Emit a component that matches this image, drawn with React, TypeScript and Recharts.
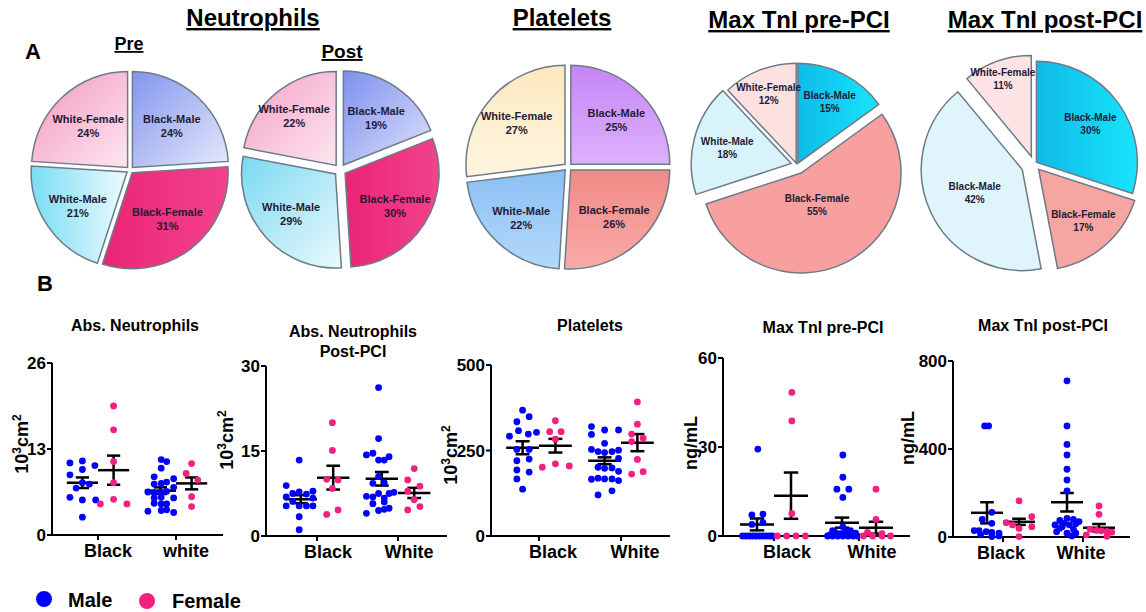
import React from "react";
import {
  PieChart,
  Pie,
  Cell,
  ScatterChart,
  Scatter,
  XAxis,
  YAxis,
  ReferenceLine,
} from "recharts";

const FONT = "'Liberation Sans', Arial, sans-serif";
const BLUE = "#0000ff";
const PINK = "#f2217f";

// ---------- Panel A: pie shares (%) ----------
const sliceNames = ["Black-Male", "Black-Female", "White-Male", "White-Female"];
const tnPostNames = ["Black-Male", "Black-Female", "Black-Male", "White-Female"];
const neutPrePct = [24, 31, 21, 24];
const neutPostPct = [19, 30, 29, 22];
const plateletPct = [25, 26, 22, 27];
const tnPrePct = [15, 55, 18, 12];
const tnPostPct = [30, 17, 42, 11];

// ---------- Panel B: individual values [jitter, value] ----------
type Pt = [number, number];

const neutPreBM: Pt[] = [
  [-0.36, 10.9], [-0.2, 11.2], [-0.04, 10.5], [-0.36, 9.1], [-0.2, 9.9], [-0.2, 7.9],
  [-0.28, 7.1], [-0.11, 7.7], [-0.36, 5.7], [-0.2, 5.3], [-0.03, 5.3], [-0.2, 2.7],
];
const neutPreBF: Pt[] = [
  [0.2, 19.5], [0.2, 15.9], [0.2, 11.1], [0.2, 7.9], [0.2, 5.4], [0.03, 4.7], [0.37, 4.7],
];
const neutPreWM: Pt[] = [
  [-0.19, 11.4], [-0.12, 11.1], [-0.19, 10.1], [-0.28, 8.8], [-0.03, 8.5], [-0.28, 7.7],
  [-0.19, 7.8], [-0.12, 8.0], [-0.36, 6.5], [-0.28, 6.4], [-0.19, 6.4], [-0.12, 6.6],
  [-0.03, 7.2], [-0.28, 5.6], [-0.19, 5.7], [-0.03, 5.6], [-0.28, 4.8], [-0.19, 4.7],
  [-0.12, 4.7], [-0.36, 3.6], [-0.19, 3.7], [-0.12, 3.8], [-0.03, 3.4],
];
const neutPreWF: Pt[] = [[0.2, 10.8], [0.13, 9.3], [0.28, 8.3], [0.2, 5.8], [0.2, 4.3]];
const neutPreStats = [[7.9, 0.8], [9.8, 2.2], [6.7, 0.5], [7.8, 0.9]];

const neutPostBM: Pt[] = [
  [-0.22, 13.4], [-0.38, 8.9], [-0.3, 7.5], [-0.22, 7.8], [-0.13, 7.4], [-0.05, 7.9],
  [-0.38, 6.9], [-0.05, 6.7], [-0.3, 6.1], [-0.38, 5.3], [-0.22, 5.3], [-0.13, 5.3],
  [-0.05, 5.3], [-0.22, 3.4], [-0.22, 1.1],
];
const neutPostBF: Pt[] = [
  [0.19, 20.0], [0.19, 15.1], [0.12, 10.0], [0.26, 9.9], [0.19, 8.4], [0.26, 4.6], [0.12, 3.8],
];
const neutPostWM: Pt[] = [
  [-0.24, 26.2], [-0.24, 17.2], [-0.31, 14.6], [-0.39, 14.3], [-0.17, 13.4], [-0.24, 13.4],
  [-0.11, 14.0], [-0.24, 10.5], [-0.31, 9.3], [-0.17, 9.4], [-0.39, 7.0], [-0.24, 7.5],
  [-0.11, 7.5], [-0.05, 7.7], [-0.31, 6.9], [-0.17, 6.7], [-0.31, 5.7], [-0.17, 6.0],
  [-0.11, 4.9], [-0.17, 4.7], [-0.39, 4.0], [-0.24, 4.5],
];
const neutPostWF: Pt[] = [
  [0.2, 11.9], [0.12, 9.9], [0.27, 8.8], [0.12, 7.9], [0.2, 6.4], [0.27, 5.2], [0.12, 4.6],
];
const neutPostStats = [[6.5, 0.7], [10.3, 2.1], [10.1, 1.2], [7.6, 0.9]];

const platBM: Pt[] = [
  [-0.2, 368], [-0.12, 349], [-0.27, 334], [-0.36, 292], [-0.25, 308], [-0.13, 298],
  [-0.03, 303], [-0.27, 253], [-0.12, 253], [-0.27, 220], [-0.12, 225], [-0.27, 193],
  [-0.12, 187], [-0.27, 167], [-0.2, 137],
];
const platBF: Pt[] = [
  [0.2, 337], [0.13, 305], [0.27, 305], [0.2, 283], [0.04, 201], [0.2, 211], [0.37, 205],
];
const platWM: Pt[] = [
  [-0.36, 320], [-0.2, 310], [-0.03, 310], [-0.36, 297], [-0.2, 271], [-0.36, 253],
  [-0.28, 247], [-0.2, 244], [-0.11, 247], [-0.03, 251], [-0.03, 227], [-0.28, 201],
  [-0.2, 198], [-0.11, 199], [-0.03, 189], [-0.36, 166], [-0.28, 169], [-0.2, 167],
  [-0.11, 167], [-0.03, 162], [-0.11, 132], [-0.28, 120],
];
const platWF: Pt[] = [
  [0.2, 392], [0.2, 327], [0.13, 298], [0.27, 286], [0.13, 276], [0.2, 224], [0.13, 181], [0.27, 188],
];
const platStats = [[258, 19], [264, 20], [220, 10], [273, 25]];

const tnPreBM: Pt[] = [
  [-0.19, 29.3], [-0.13, 7.4], [-0.26, 7.1], [-0.13, 4.5], [-0.26, 3.9], [-0.37, 0],
  [-0.33, 0], [-0.29, 0], [-0.25, 0], [-0.21, 0], [-0.17, 0], [-0.13, 0], [-0.09, 0],
  [-0.05, 0], [-0.02, 0],
];
const tnPreBF: Pt[] = [
  [0.21, 48.4], [0.21, 38.8], [0.21, 7.6], [0.04, 0], [0.15, 0], [0.26, 0], [0.37, 0],
];
const tnPreWM: Pt[] = [
  [-0.19, 27.3], [-0.19, 19.8], [-0.26, 15.8], [-0.12, 15.8], [-0.19, 13.0], [-0.19, 3.1],
  [-0.37, 0], [-0.34, 0.4], [-0.31, 0], [-0.28, 1.2], [-0.25, 0], [-0.22, 0.8], [-0.19, 0],
  [-0.16, 1.5], [-0.13, 0], [-0.1, 0.6], [-0.07, 0], [-0.04, 1.0], [-0.02, 0], [-0.31, 1.8],
  [-0.1, 1.8],
];
const tnPreWF: Pt[] = [
  [0.2, 15.8], [0.2, 5.6], [0.1, 1.2], [0.27, 0.8], [0.05, 0], [0.16, 0], [0.27, 0], [0.37, 0],
];
const tnPreStats = [[3.9, 2.0], [13.6, 7.8], [4.5, 1.7], [2.8, 2.0]];

const tnPostBM: Pt[] = [
  [-0.23, 505], [-0.18, 505], [-0.14, 112], [-0.26, 80], [-0.14, 62], [-0.36, 29],
  [-0.3, 29], [-0.21, 24], [-0.14, 21], [-0.05, 17], [-0.14, 2], [-0.28, 10], [-0.05, 5],
];
const tnPostBF: Pt[] = [
  [0.2, 164], [0.36, 92], [0.04, 65], [0.12, 55], [0.36, 47], [0.2, 39], [0.2, 2],
];
const tnPostWM: Pt[] = [
  [-0.2, 710], [-0.2, 505], [-0.2, 421], [-0.2, 373], [-0.2, 308], [-0.2, 259], [-0.2, 209],
  [-0.2, 85], [-0.12, 80], [-0.05, 70], [-0.29, 75], [-0.35, 55], [-0.26, 47], [-0.17, 55],
  [-0.09, 60], [-0.33, 24], [-0.2, 17], [-0.09, 17], [-0.14, 5], [-0.29, 40], [-0.12, 35],
  [-0.24, 62],
];
const tnPostWF: Pt[] = [
  [0.2, 141], [0.2, 103], [0.09, 35], [0.17, 30], [0.23, 28], [0.3, 25], [0.36, 22], [0.04, 10], [0.3, 3],
];
const tnPostStats = [[110, 48], [69, 14], [158, 42], [42, 17]];

// ---------- pies ----------
type PieCfg = {
  id: string;
  names: string[];
  pct: number[];
  cx: number;
  cy: number;
  r: number;
  explode: number[];
  labelR: number[];
  fills: string[];
  fs: number;
};

const pies: PieCfg[] = [
  {
    id: "pre", names: sliceNames, pct: neutPrePct, cx: 130, cy: 170, r: 96,
    explode: [3.5, 3.5, 3.5, 3.5], labelR: [0.6, 0.6, 0.62, 0.6],
    fills: ["url(#preBM)", "url(#preBF)", "url(#preWM)", "url(#preWF)"], fs: 11,
  },
  {
    id: "post", names: sliceNames, pct: neutPostPct, cx: 340, cy: 170, r: 94,
    explode: [6, 6, 6, 6], labelR: [0.62, 0.63, 0.63, 0.7],
    fills: ["url(#postBM)", "url(#postBF)", "url(#postWM)", "url(#postWF)"], fs: 11,
  },
  {
    id: "plt", names: sliceNames, pct: plateletPct, cx: 568, cy: 167, r: 99,
    explode: [4, 4, 4, 4], labelR: [0.65, 0.64, 0.65, 0.65],
    fills: ["url(#pltBM)", "url(#pltBF)", "url(#pltWM)", "url(#pltWF)"], fs: 11,
  },
  {
    id: "tpre", names: sliceNames, pct: tnPrePct, cx: 797, cy: 165, r: 100,
    explode: [2, 9, 6, 2], labelR: [0.7, 0.35, 0.66, 0.75],
    fills: ["url(#tnBM)", "#f7a09f", "#d8f3fa", "#fde0e0"], fs: 10,
  },
  {
    id: "tpost", names: tnPostNames, pct: tnPostPct, cx: 1034, cy: 164, r: 101,
    explode: [3, 7, 13, 8], labelR: [0.66, 0.67, 0.52, 0.83],
    fills: ["url(#tnBM)", "#f6a5a3", "#e0f5fb", "#fde3e3"], fs: 10,
  },
];

const midAngles = (vals: number[]) => {
  const total = vals.reduce((a, b) => a + b, 0);
  let acc = 0;
  return vals.map((v) => {
    const m = 90 - (360 * (acc + v / 2)) / total;
    acc += v;
    return m;
  });
};

const grad = (id: string, a: string, b: string, x2 = 1, y2 = 1) => (
  <linearGradient id={id} x1="0" y1="0" x2={x2} y2={y2}>
    <stop offset="0%" stopColor={a} />
    <stop offset="100%" stopColor={b} />
  </linearGradient>
);

function PieRow() {
  return (
    <div style={{ position: "absolute", left: 0, top: 0 }}>
      <PieChart width={1146} height={290} margin={{ top: 0, right: 0, bottom: 0, left: 0 }}>
        <defs>
          {grad("preBM", "#8395ee", "#e6e9fb")}
          {grad("preBF", "#ea2576", "#f3428b", 1, 0)}
          {grad("preWM", "#79ddf3", "#edfafe", 1, 0)}
          {grad("preWF", "#f497bf", "#fde6ef")}
          {grad("postBM", "#7d90ee", "#dfe3fa")}
          {grad("postBF", "#ea2576", "#f3428b", 1, 0)}
          {grad("postWM", "#7bd9f1", "#eaf9fd")}
          {grad("postWF", "#f4a0c5", "#fde6ef")}
          {grad("pltBM", "#c585f6", "#dcb2fb", 0, 1)}
          {grad("pltBF", "#f28a86", "#f8aba7", 0, 1)}
          {grad("pltWM", "#8bbff4", "#b3d9fb", 0, 1)}
          {grad("pltWF", "#fde8bf", "#fef5e0", 0, 1)}
          {grad("tnBM", "#0fbbe8", "#18e4fc", 1, 0)}
        </defs>
        {pies.map((cfg) => {
          const mids = midAngles(cfg.pct);
          const data = cfg.pct.map((v, i) => ({ name: cfg.names[i], value: v }));
          return cfg.pct.map((_, k) => {
            const rad = (Math.PI / 180) * mids[k];
            const cx = cfg.cx + cfg.explode[k] * Math.cos(rad);
            const cy = cfg.cy - cfg.explode[k] * Math.sin(rad);
            const lr = cfg.r * cfg.labelR[k];
            const lx = cx + lr * Math.cos(rad);
            const ly = cy - lr * Math.sin(rad);
            return (
              <Pie
                key={cfg.id + k}
                data={data}
                dataKey="value"
                cx={cx}
                cy={cy}
                outerRadius={cfg.r}
                startAngle={90}
                endAngle={-270}
                labelLine={false}
                isAnimationActive={false}
                label={(p: any) =>
                  p.index === k ? (
                    <text
                      x={lx}
                      y={ly}
                      textAnchor="middle"
                      fontFamily={FONT}
                      fontWeight={700}
                      fontSize={cfg.fs}
                      fill="#241a33"
                    >
                      <tspan x={lx} dy={-2}>{cfg.names[k]}</tspan>
                      <tspan x={lx} dy={cfg.fs + 3}>{cfg.pct[k]}%</tspan>
                    </text>
                  ) : null
                }
              >
                {data.map((_, i) => (
                  <Cell
                    key={i}
                    fill={i === k ? cfg.fills[i] : "none"}
                    stroke={i === k ? "#6d7b88" : "none"}
                    strokeWidth={1.5}
                  />
                ))}
              </Pie>
            );
          });
        })}
      </PieChart>
    </div>
  );
}

// ---------- scatter panels ----------
type PanelCfg = {
  cats: string[];
  yMax: number;
  groups: Pt[][];
  stats: number[][];
  left: number;
  top: number;
  right: number;
  bottom: number;
  tick1: number;
  tick2: number;
  labelDx: number;
};

const panels: PanelCfg[] = [
  {
    cats: ["Black", "white"], yMax: 26, groups: [neutPreBM, neutPreBF, neutPreWM, neutPreWF],
    stats: neutPreStats, left: 52, top: 363, right: 223, bottom: 535, tick1: 98, tick2: 176, labelDx: 10,
  },
  {
    cats: ["Black", "White"], yMax: 30, groups: [neutPostBM, neutPostBF, neutPostWM, neutPostWF],
    stats: neutPostStats, left: 266, top: 366, right: 447, bottom: 536, tick1: 317, tick2: 398, labelDx: 11,
  },
  {
    cats: ["Black", "White"], yMax: 500, groups: [platBM, platBF, platWM, platWF],
    stats: platStats, left: 491, top: 365, right: 670, bottom: 536, tick1: 539, tick2: 621, labelDx: 14,
  },
  {
    cats: ["Black", "White"], yMax: 60, groups: [tnPreBM, tnPreBF, tnPreWM, tnPreWF],
    stats: tnPreStats, left: 723, top: 358, right: 910, bottom: 536, tick1: 774, tick2: 859, labelDx: 13,
  },
  {
    cats: ["Black", "White"], yMax: 800, groups: [tnPostBM, tnPostBF, tnPostWM, tnPostWF],
    stats: tnPostStats, left: 953, top: 361, right: 1130, bottom: 537, tick1: 1003, tick2: 1083, labelDx: -2,
  },
];

const dot = (color: string) => (p: any) => <circle cx={p.cx} cy={p.cy} r={3.4} fill={color} />;

function Panel({ cfg }: { cfg: PanelCfg }) {
  const unit = cfg.tick2 - cfg.tick1;
  const xMin = 1 - (cfg.tick1 - cfg.left) / unit;
  const xMax = 2 + (cfg.right - cfg.tick2) / unit;
  const W = cfg.right - cfg.left + 60;
  const H = cfg.bottom - cfg.top + 50;
  const cats = [1, 1, 2, 2];
  const centers = [0.8, 1.2, 1.8, 2.2];
  const colors = [BLUE, PINK, BLUE, PINK];
  const seg = (x1: number, x2: number, y1: number, y2: number, key: string) => (
    <ReferenceLine
      key={key}
      segment={[{ x: x1, y: y1 }, { x: x2, y: y2 }]}
      stroke="#000"
      strokeWidth={2.5}
    />
  );
  return (
    <div style={{ position: "absolute", left: cfg.left - 50, top: cfg.top - 10 }}>
      <ScatterChart width={W} height={H} margin={{ top: 10, right: 10, bottom: 0, left: 0 }}>
        <XAxis
          type="number"
          dataKey="x"
          domain={[xMin, xMax]}
          ticks={[1, 2]}
          height={40}
          axisLine={{ stroke: "#000", strokeWidth: 2 }}
          tickLine={{ stroke: "#000", strokeWidth: 2 }}
          tickSize={5}
          tick={(p: any) => (
            <text
              x={p.x + cfg.labelDx}
              y={p.y + 15}
              textAnchor="middle"
              fontFamily={FONT}
              fontWeight={700}
              fontSize={18}
              fill="#000"
            >
              {cfg.cats[p.payload.value - 1]}
            </text>
          )}
        />
        <YAxis
          type="number"
          dataKey="y"
          domain={[0, cfg.yMax]}
          ticks={[0, cfg.yMax / 2, cfg.yMax]}
          width={50}
          axisLine={{ stroke: "#000", strokeWidth: 2 }}
          tickLine={{ stroke: "#000", strokeWidth: 2 }}
          tickSize={5}
          tickMargin={1}
          tick={(p: any) => (
            <text
              x={p.x}
              y={p.y + 6}
              textAnchor="end"
              fontFamily={FONT}
              fontWeight={700}
              fontSize={17}
              fill="#000"
            >
              {p.payload.value}
            </text>
          )}
        />
        {cfg.groups.map((g, gi) => (
          <Scatter
            key={gi}
            data={g.map(([dx, v]) => ({ x: cats[gi] + dx, y: v }))}
            shape={dot(colors[gi])}
            isAnimationActive={false}
          />
        ))}
        {cfg.stats.map(([m, s], gi) => {
          const c = centers[gi];
          return [
            seg(c - 0.2, c + 0.2, m, m, "m" + gi),
            seg(c - 0.085, c + 0.085, m + s, m + s, "u" + gi),
            seg(c - 0.085, c + 0.085, m - s, m - s, "l" + gi),
            seg(c, c, m - s, m + s, "v" + gi),
          ];
        })}
      </ScatterChart>
    </div>
  );
}

// rotated y-axis title
const YTitle = ({ x, y, unit }: { x: number; y: number; unit: "cm" | "ng" }) => (
  <g transform={`translate(${x},${y}) rotate(-90)`}>
    <text x={0} y={7} textAnchor="middle" fontSize={18} fontWeight={700} fontFamily={FONT} fill="#000">
      {unit === "cm" ? (
        <>
          <tspan>10</tspan>
          <tspan dy={-7} fontSize={12}>3</tspan>
          <tspan dy={7}>cm</tspan>
          <tspan dy={-7} fontSize={12}>2</tspan>
        </>
      ) : (
        "ng/mL"
      )}
    </text>
  </g>
);

function Overlay() {
  const t = { fontFamily: FONT, fontWeight: 700, fill: "#000" } as const;
  const head = { ...t, fontSize: 24, textDecoration: "underline", textAnchor: "middle" } as any;
  const sub = { ...t, fontSize: 16, textAnchor: "middle" } as any;
  return (
    <svg
      width={1146}
      height={612}
      style={{ position: "absolute", left: 0, top: 0, pointerEvents: "none" }}
    >
      <text x={253} y={26} {...head}>Neutrophils</text>
      <text x={562} y={26} {...head}>Platelets</text>
      <text x={799} y={28} {...head}>Max TnI pre-PCI</text>
      <text x={1045} y={28} {...head}>Max TnI post-PCI</text>
      <text x={129} y={50} {...head} fontSize={18}>Pre</text>
      <text x={342} y={58} {...head} fontSize={19}>Post</text>
      <text x={25} y={59} {...t} fontSize={22}>A</text>
      <text x={37} y={291} {...t} fontSize={22}>B</text>

      <text x={135} y={331} {...sub}>Abs. Neutrophils</text>
      <text x={353} y={337} {...sub}>Abs. Neutrophils</text>
      <text x={353} y={357} {...sub}>Post-PCI</text>
      <text x={590} y={331} {...sub}>Platelets</text>
      <text x={823} y={333} {...sub}>Max TnI pre-PCI</text>
      <text x={1043} y={331} {...sub}>Max TnI post-PCI</text>

      <YTitle x={21} y={444} unit="cm" />
      <YTitle x={226} y={440} unit="cm" />
      <YTitle x={450} y={455} unit="cm" />
      <YTitle x={690} y={443} unit="ng" />
      <YTitle x={907} y={438} unit="ng" />

      <circle cx={44} cy={599} r={8} fill={BLUE} />
      <text x={68} y={607} {...t} fontSize={20}>Male</text>
      <circle cx={147} cy={601} r={8} fill={PINK} />
      <text x={172} y={608} {...t} fontSize={20}>Female</text>
    </svg>
  );
}

export default function App() {
  return (
    <div
      style={{
        position: "absolute",
        left: 0,
        top: 0,
        width: 1146,
        height: 612,
        background: "#fff",
        fontFamily: FONT,
      }}
    >
      <PieRow />
      {panels.map((p, i) => (
        <Panel key={i} cfg={p} />
      ))}
      <Overlay />
    </div>
  );
}
